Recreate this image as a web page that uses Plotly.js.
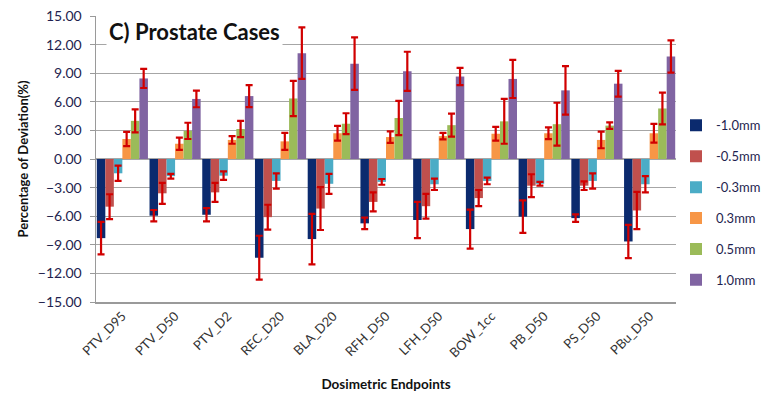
<!DOCTYPE html>
<html>
<head>
<meta charset="utf-8">
<script src="https://cdn.plot.ly/plotly-3.0.1.min.js"></script>
<style>html,body{margin:0;padding:0;background:#fff;}#chart{width:778px;height:394px;}</style>
</head>
<body>
<div id="chart"></div>
<script>
const categories = ["PTV_D95","PTV_D50","PTV_D2","REC_D20","BLA_D20","RFH_D50","LFH_D50","BOW_1cc","PB_D50","PS_D50","PBu_D50"];
const seriesNames = ["-1.0mm","-0.5mm","-0.3mm","0.3mm","0.5mm","1.0mm"];

const m10 = [-8.3,-5.95,-5.85,-10.35,-8.4,-6.75,-6.4,-7.35,-6.05,-6.2,-8.65];
const m10err = [1.7,0.6,0.7,2.3,2.65,0.6,1.9,2.05,1.7,0.4,1.75];
const m05 = [-5.0,-3.6,-3.5,-6.1,-5.2,-4.5,-4.95,-4.1,-2.8,-2.8,-5.4];
const m05err = [1.3,1.1,1.0,1.3,2.25,1.0,1.3,0.85,1.2,0.45,1.95];
const m03 = [-1.5,-1.8,-1.75,-2.3,-2.6,-2.4,-2.65,-2.3,-2.6,-2.3,-2.65];
const m03err = [0.8,0.25,0.45,0.8,1.05,0.3,0.6,0.35,0.2,0.8,0.85];
const p03 = [2.1,1.6,2.0,1.85,2.7,2.3,2.4,2.65,2.7,2.0,2.7];
const p03err = [0.75,0.65,0.4,0.9,0.78,0.6,0.35,0.73,0.62,0.87,0.98];
const p05 = [4.0,2.95,3.15,6.35,3.7,4.3,3.55,3.95,3.65,3.5,5.3];
const p05err = [1.2,0.85,0.85,1.85,1.1,1.8,1.2,2.35,2.25,0.35,1.66];
const p10 = [8.45,6.3,6.6,11.1,10.0,9.2,8.65,8.4,7.2,7.9,10.75];
const p10err = [1.0,0.87,1.15,2.7,2.75,2.05,0.9,2.0,2.55,1.35,1.7];

const values = [m10,m05,m03,p03,p05,p10];
const errors = [m10err,m05err,m03err,p03err,p05err,p10err];
const colors = ["#0b2a6e","#c0504d","#4bacc6","#f79646","#9bbb59","#8064a2"];

const traces = seriesNames.map((name,i)=>({
  type:'bar', name:name, x:categories, y:values[i],
  marker:{color:colors[i]},
  legendgroup:'g'+i,
  error_y:{type:'data', array:errors[i], visible:true, color:'#d10000', thickness:2.2, width:3.5}
}));

const font = "Lato, 'Open Sans', 'Liberation Sans', sans-serif";
const layout = {
  width:778, height:394,
  margin:{l:96, r:75, t:16, b:92},
  paper_bgcolor:'#fff', plot_bgcolor:'#fff',
  barmode:'group', bargap:0.03, bargroupgap:0,
  font:{family:font, color:'#222', size:12},
  showlegend:true,
  legend:{x:1.0, xanchor:'left', y:0.67, yanchor:'top', font:{size:13, color:'#1f1f4f', family:font},
          tracegroupgap:11, itemwidth:30, bgcolor:'rgba(0,0,0,0)', borderwidth:0},
  xaxis:{
    tickangle:-45, tickfont:{size:13, color:'#333', family:font},
    showline:true, linecolor:'#9a9a9a', linewidth:1.5, ticks:'',
    title:{text:'Dosimetric Endpoints', font:{size:13.5, color:'#111', family:font, weight:'bold'}, standoff:20},
    automargin:false
  },
  yaxis:{
    range:[-15,15], dtick:3, tick0:-15, tickformat:'.2f',
    tickfont:{size:14, color:'#1f1f4f', family:font}, ticklabelstandoff:5,
    showgrid:true, gridcolor:'#a6a6a6', gridwidth:1.3,
    zeroline:false, showline:true, linecolor:'#9a9a9a', linewidth:1.5,
    ticks:'outside', ticklen:5, tickcolor:'#9a9a9a',
    title:{text:'Percentage of Deviation(%)', font:{size:13, color:'#111', family:font, weight:'bold'}, standoff:6},
    automargin:false
  },
  annotations:[{
    text:'<b>C) Prostate Cases</b>', xref:'paper', yref:'paper', x:0.018, y:1.005, xanchor:'left', yanchor:'top',
    showarrow:false, font:{size:22, color:'#111', family:font}, bgcolor:'#fff', borderpad:2
  }]
};
Plotly.newPlot('chart', traces, layout, {displayModeBar:false, staticPlot:true});
</script>
</body>
</html>
